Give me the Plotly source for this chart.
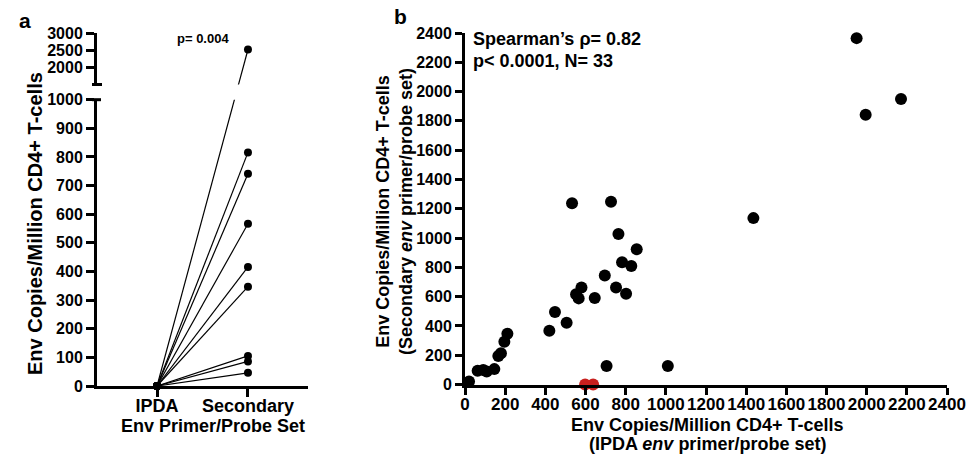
import plotly.graph_objects as go

W, H = 973, 456

# ---------------- data ----------------
# Panel a: paired values (IPDA vs Secondary primer/probe set)
pair_groups = ["IPDA", "Secondary"]
ipda_vals = [0, 0, 0, 0, 0, 0, 0, 0, 0]
secondary_vals = [2525, 816, 741, 567, 416, 347, 105, 86, 46]
low_ticks = [0, 100, 200, 300, 400, 500, 600, 700, 800, 900, 1000]
high_ticks = [2000, 2500, 3000]
p_text_a = "p= 0.004"

# Panel b: correlation scatter
ipda_env_x = [20, 63, 91, 108, 146, 166, 179, 196, 211,
              420, 448, 506, 533, 553, 566, 580, 646, 696, 705, 727,
              764, 752, 782, 802, 828, 855,
              1010, 1436, 1950, 1995, 2171]
secondary_env_y = [20, 94, 99, 88, 105, 195, 213, 292, 346,
                   367, 495, 422, 1237, 616, 588, 663, 590, 745, 126, 1248,
                   1027, 663, 834, 620, 809, 923,
                   126, 1136, 2365, 1842, 1949]
red_x = [598, 638]
red_y = [0, 0]
b_ticks = list(range(0, 2401, 200))

# ---------------- geometry (pixels) ----------------
A_X0, A_X1 = 97, 308
A_LOW_TOP, A_LOW_BOT = 99.7, 386.0
A_HIGH_TOP, A_HIGH_BOT = 33.3, 84.5
LOW_RANGE = [0, 1000]
HIGH_RANGE = [1500, 3000]
B_X0, B_X1 = 465, 947
B_TOP, B_BOT = 33.0, 384.5

def ydom(top, bot):
    return [1 - bot / H, 1 - top / H]

def px_low(v):
    return A_LOW_BOT - (v - LOW_RANGE[0]) / (LOW_RANGE[1] - LOW_RANGE[0]) * (A_LOW_BOT - A_LOW_TOP)

def val_low(py):
    return LOW_RANGE[0] + (A_LOW_BOT - py) / (A_LOW_BOT - A_LOW_TOP) * (LOW_RANGE[1] - LOW_RANGE[0])

def px_high(v):
    return A_HIGH_BOT - (v - HIGH_RANGE[0]) / (HIGH_RANGE[1] - HIGH_RANGE[0]) * (A_HIGH_BOT - A_HIGH_TOP)

def val_high(py):
    return HIGH_RANGE[0] + (A_HIGH_BOT - py) / (A_HIGH_BOT - A_HIGH_TOP) * (HIGH_RANGE[1] - HIGH_RANGE[0])

FONT = "Liberation Sans, Arial, Helvetica, sans-serif"
BLACK = "#000000"

fig = go.Figure()

# ---- panel a lines ----
for a, s in zip(ipda_vals, secondary_vals):
    if s <= LOW_RANGE[1]:
        fig.add_trace(go.Scatter(x=pair_groups, y=[a, s], mode="lines",
                                 line=dict(color=BLACK, width=1.2),
                                 xaxis="x", yaxis="y", showlegend=False, hoverinfo="skip"))
    else:
        # same straight line in pixel space, split across the broken axis
        fig.add_trace(go.Scatter(x=pair_groups, y=[a, val_low(px_high(s))], mode="lines",
                                 line=dict(color=BLACK, width=1.2),
                                 xaxis="x", yaxis="y", showlegend=False, hoverinfo="skip"))
        fig.add_trace(go.Scatter(x=pair_groups, y=[val_high(px_low(a)), s], mode="lines",
                                 line=dict(color=BLACK, width=1.2),
                                 xaxis="x", yaxis="y2", showlegend=False, hoverinfo="skip"))

# ---- panel a markers ----
fig.add_trace(go.Scatter(x=[pair_groups[0]] * len(ipda_vals), y=ipda_vals, mode="markers",
                         marker=dict(color=BLACK, size=8), cliponaxis=False,
                         xaxis="x", yaxis="y", showlegend=False))
low_s = [s for s in secondary_vals if s <= LOW_RANGE[1]]
high_s = [s for s in secondary_vals if s > LOW_RANGE[1]]
fig.add_trace(go.Scatter(x=[pair_groups[1]] * len(low_s), y=low_s, mode="markers",
                         marker=dict(color=BLACK, size=8), cliponaxis=False,
                         xaxis="x", yaxis="y", showlegend=False))
fig.add_trace(go.Scatter(x=[pair_groups[1]] * len(high_s), y=high_s, mode="markers",
                         marker=dict(color=BLACK, size=8), cliponaxis=False,
                         xaxis="x", yaxis="y2", showlegend=False))

# ---- panel b ----
fig.add_trace(go.Scatter(x=ipda_env_x, y=secondary_env_y, mode="markers",
                         marker=dict(color=BLACK, size=12), cliponaxis=False,
                         xaxis="x2", yaxis="y3", showlegend=False))
fig.add_trace(go.Scatter(x=red_x, y=red_y, mode="markers",
                         marker=dict(color="#c8201e", size=12), cliponaxis=False,
                         xaxis="x2", yaxis="y3", showlegend=False))

axis_common = dict(showline=True, linecolor=BLACK, linewidth=3, ticks="outside",
                   ticklen=8, tickwidth=3, tickcolor=BLACK, showgrid=False,
                   zeroline=False, automargin=False, fixedrange=True,
                   tickfont=dict(family=FONT, size=16, color=BLACK, weight="bold"))

fig.update_layout(
    width=W, height=H,
    margin=dict(l=0, r=0, t=0, b=0),
    paper_bgcolor="white", plot_bgcolor="white",
    template="none",
    xaxis=dict(axis_common, domain=[A_X0 / W, A_X1 / W], type="category",
               categoryorder="array", categoryarray=pair_groups,
               range=[-0.66, 1.66], anchor="y", ticklabelstandoff=-7,
               tickfont=dict(family=FONT, size=18, color=BLACK, weight="bold")),
    yaxis=dict(axis_common, domain=ydom(A_LOW_TOP, A_LOW_BOT), range=LOW_RANGE,
               tickvals=low_ticks, anchor="x"),
    yaxis2=dict(axis_common, domain=ydom(A_HIGH_TOP, A_HIGH_BOT), range=HIGH_RANGE,
                tickvals=high_ticks, anchor="x"),
    xaxis2=dict(axis_common, domain=[B_X0 / W, B_X1 / W], range=[0, 2400],
                tickvals=b_ticks, tickangle=0, anchor="y3", ticklen=7,
                ticklabelstandoff=-5,
                tickfont=dict(family=FONT, size=17, color=BLACK, weight="bold")),
    yaxis3=dict(axis_common, domain=ydom(B_TOP, B_BOT), range=[0, 2400],
                tickvals=b_ticks, anchor="x2", ticklen=7),
)

def ann(text, x, y, size=18, xanchor="center", angle=0, yanchor="middle"):
    fig.add_annotation(text=text, x=x / W, y=1 - y / H, xref="paper", yref="paper",
                       showarrow=False, xanchor=xanchor, yanchor=yanchor, textangle=angle,
                       font=dict(family=FONT, size=size, color=BLACK, weight="bold"))

ann("a", 25, 20, size=21)
ann("b", 400, 17, size=21)
ann(p_text_a, 203, 39, size=13)
ann("Env Copies/Million CD4+ T-cells", 35, 224, size=20, angle=-90)
ann("Env Primer/Probe Set", 213, 426)
ann("Spearman\u2019s \u03c1= 0.82", 471, 39, xanchor="left")
ann("p< 0.0001, N= 33", 471, 61, xanchor="left")
ann("Env Copies/Million CD4+ T-cells<br>(Secondary <i>env</i> primer/probe set)", 394, 212, angle=-90)
ann("Env Copies/Million CD4+ T-cells", 707, 425)
ann("(IPDA <i>env</i> primer/probe set)", 707, 444)

# broken-axis end caps
fig.add_shape(type="line", xref="paper", yref="paper",
              x0=92 / W, x1=102 / W, y0=1 - A_HIGH_BOT / H, y1=1 - A_HIGH_BOT / H,
              line=dict(color=BLACK, width=3))
fig.add_shape(type="line", xref="paper", yref="paper",
              x0=92 / W, x1=101 / W, y0=1 - A_LOW_TOP / H, y1=1 - A_LOW_TOP / H,
              line=dict(color=BLACK, width=3))

fig.write_html("out.html", config={"displayModeBar": False},
               post_script="document.body.style.margin='0';document.body.style.overflow='hidden';")
